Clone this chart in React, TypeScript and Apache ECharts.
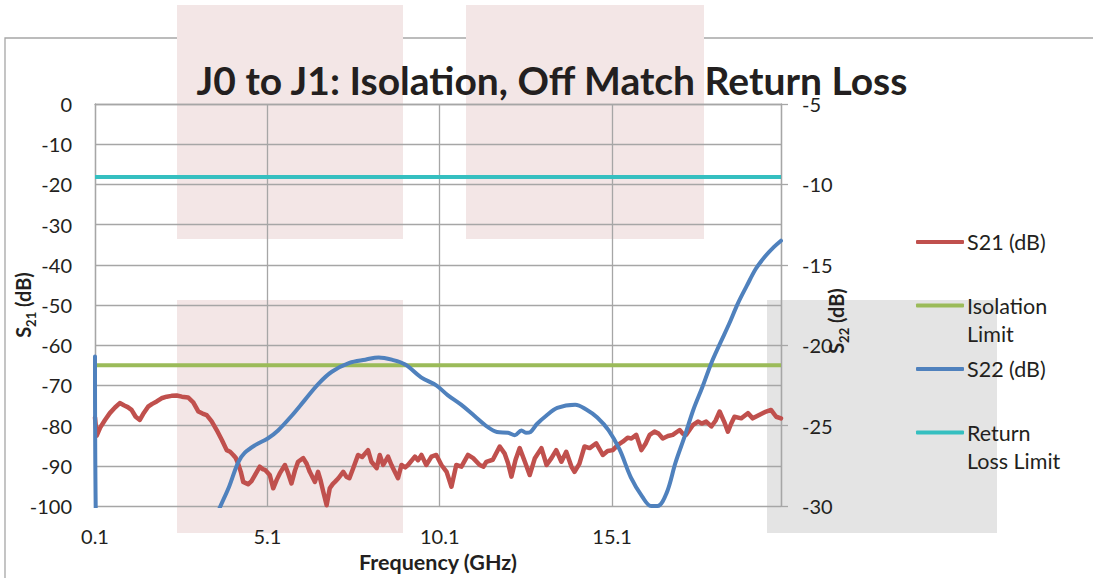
import React, { useEffect, useRef } from "react";
import * as echarts from "echarts";

const TITLE = "J0 to J1: Isolation, Off Match Return Loss";
const X_NAME = "Frequency (GHz)";
const NAME_S21 = "S21 (dB)";
const NAME_ISO = "Isolation Limit";
const NAME_S22 = "S22 (dB)";
const NAME_RL = "Return Loss Limit";
const LEGEND_LABELS: Record<string, string> = {
  [NAME_S21]: "S21 (dB)",
  [NAME_ISO]: "\nIsolation\nLimit",
  [NAME_S22]: "S22 (dB)",
  [NAME_RL]: "\nReturn\nLoss Limit",
};

const FREQ_MIN = 0.1;
const FREQ_MAX = 20;
const FREQ_STEP = 5;
const LEFT_MIN = -100;
const LEFT_MAX = 0;
const LEFT_STEP = 10;
const RIGHT_MIN = -30;
const RIGHT_MAX = -5;
const RIGHT_STEP = 5;

const ISOLATION_LIMIT = -65;
const RETURN_LOSS_LIMIT = -9.54;

// [frequency GHz, S21 dB]
const S21: [number, number][] = [
  [0.1, -78.0], [0.15, -82.5], [0.25, -80.5], [0.39, -78.6], [0.53, -76.9],
  [0.68, -75.5], [0.82, -74.4], [0.95, -75.0], [1.05, -75.4], [1.16, -76.1],
  [1.28, -77.8], [1.4, -78.6], [1.52, -76.8], [1.64, -75.3], [1.76, -74.6],
  [1.89, -74.0], [2.03, -73.2], [2.18, -72.8], [2.32, -72.6], [2.47, -72.5],
  [2.62, -72.8], [2.8, -73.0], [2.95, -74.2], [3.1, -76.5], [3.22, -77.0],
  [3.34, -77.4], [3.48, -78.9], [3.63, -81.1], [3.78, -83.6], [3.92, -86.1],
  [4.02, -86.5], [4.11, -87.3], [4.18, -88.0], [4.25, -89.4], [4.33, -91.5],
  [4.4, -94.0], [4.54, -94.6], [4.64, -93.8], [4.74, -92.3], [4.88, -90.2],
  [4.96, -90.8], [5.03, -91.0], [5.17, -92.3], [5.27, -95.6], [5.37, -93.5],
  [5.46, -91.9], [5.61, -89.8], [5.7, -91.8], [5.8, -94.4], [5.9, -91.2],
  [5.99, -89.0], [6.14, -88.1], [6.24, -89.5], [6.33, -91.5], [6.48, -94.0],
  [6.57, -91.5], [6.64, -93.5], [6.72, -96.4], [6.82, -99.8], [6.91, -95.6],
  [7.0, -94.5], [7.06, -94.0], [7.16, -93.1], [7.3, -91.5], [7.39, -92.7],
  [7.48, -93.1], [7.59, -90.6], [7.73, -87.3], [7.85, -87.8], [8.02, -86.1],
  [8.12, -89.0], [8.27, -90.6], [8.36, -87.3], [8.46, -89.8], [8.6, -87.7],
  [8.7, -89.8], [8.89, -93.1], [8.99, -89.8], [9.1, -90.4], [9.18, -89.8],
  [9.38, -87.7], [9.47, -88.6], [9.57, -87.3], [9.71, -89.8], [9.86, -87.7],
  [10.0, -87.3], [10.15, -89.8], [10.3, -91.5], [10.44, -95.2], [10.58, -89.8],
  [10.73, -90.2], [10.92, -87.3], [11.07, -88.1], [11.26, -89.8], [11.37, -90.2],
  [11.45, -89.0], [11.64, -88.5], [11.84, -85.2], [11.98, -86.9], [12.08, -89.3],
  [12.18, -92.7], [12.3, -88.5], [12.42, -85.6], [12.57, -89.0], [12.71, -92.3],
  [12.86, -88.1], [13.05, -85.6], [13.2, -89.8], [13.34, -88.1], [13.48, -86.1],
  [13.63, -89.0], [13.77, -86.5], [13.92, -90.2], [14.01, -91.5], [14.15, -89.5],
  [14.3, -85.2], [14.45, -85.6], [14.64, -84.4], [14.83, -87.3], [14.97, -86.3],
  [15.12, -86.1], [15.27, -84.8], [15.41, -84.0], [15.55, -83.0], [15.66, -83.2],
  [15.8, -82.3], [15.95, -86.1], [16.07, -84.5], [16.19, -82.3], [16.33, -81.5],
  [16.45, -82.0], [16.57, -83.2], [16.72, -82.6], [16.86, -82.3], [17.06, -81.1],
  [17.15, -82.0], [17.25, -82.3], [17.44, -79.9], [17.59, -79.0], [17.7, -79.5],
  [17.83, -79.0], [17.98, -80.2], [18.1, -78.8], [18.22, -76.5], [18.35, -79.0],
  [18.46, -81.5], [18.55, -79.6], [18.65, -77.8], [18.85, -78.2], [19.04, -76.9],
  [19.18, -78.2], [19.38, -77.3], [19.57, -76.5], [19.71, -76.1], [19.86, -77.8],
  [20.0, -78.2],
];

// [frequency GHz, S22 dB] (values below -30 fall outside the plotted range)
const S22: [number, number][] = [
  [0.1, -20.7], [0.15, -34.0], [0.5, -38.0], [1.0, -40.5], [1.5, -41.5],
  [2.0, -40.0], [2.5, -37.0], [3.0, -34.0], [3.4, -31.8], [3.7, -30.2],
  [3.99, -28.8], [4.25, -27.3], [4.44, -26.7], [4.76, -26.2], [5.11, -25.8],
  [5.41, -25.3], [5.8, -24.4], [6.19, -23.4], [6.58, -22.4], [6.97, -21.65],
  [7.48, -21.1], [7.94, -20.9], [8.33, -20.76], [8.71, -20.9], [9.1, -21.2],
  [9.56, -22.0], [10.0, -22.5], [10.33, -23.1], [10.72, -23.7], [11.11, -24.4],
  [11.5, -25.1], [11.76, -25.4], [12.08, -25.45], [12.28, -25.6], [12.47, -25.3],
  [12.6, -25.45], [12.73, -25.4], [12.92, -24.9], [13.18, -24.4], [13.51, -23.9],
  [14.03, -23.7], [14.35, -24.0], [14.67, -24.5], [15.0, -25.3], [15.32, -26.5],
  [15.64, -28.2], [15.97, -29.4], [16.23, -30.0], [16.42, -30.0], [16.68, -29.2],
  [16.94, -27.3], [17.2, -25.7], [17.46, -24.0], [17.72, -22.6], [17.98, -21.1],
  [18.23, -19.9], [18.49, -18.7], [18.75, -17.4], [19.01, -16.3], [19.27, -15.25],
  [19.53, -14.5], [19.79, -13.9], [20.0, -13.5],
];

const FONT = 'Lato, "Open Sans", sans-serif';
const TEXT = "#231f20";
const GRID = "#a6a6a6";
const RED = "#c0504d";
const GREEN = "#9bbb59";
const BLUE = "#4f81bd";
const CYAN = "#35bfc0";
const PINK = "#f3e6e6";
const GREY_BOX = "#e4e4e4";

function axisNameText(x: number, y: number, sub: string) {
  return {
    type: "text",
    x,
    y,
    rotation: Math.PI / 2,
    z: 10,
    style: {
      text: `{b|S}{s|${sub}}{b| (dB)}`,
      align: "center",
      verticalAlign: "middle",
      rich: {
        b: {
          fontFamily: FONT,
          fontSize: 20,
          fontWeight: "bold",
          fill: TEXT,
          color: TEXT,
          padding: [0, 0, 4, 0],
          verticalAlign: "bottom",
        },
        s: {
          fontFamily: FONT,
          fontSize: 13,
          fontWeight: "bold",
          fill: TEXT,
          color: TEXT,
          verticalAlign: "bottom",
        },
      },
    },
  };
}

export default function App() {
  const ref = useRef<HTMLDivElement>(null);

  useEffect(() => {
    if (!ref.current) return;
    const chart = echarts.init(ref.current, undefined, { renderer: "svg" });

    const limitLine = (v: number) => [
      [FREQ_MIN, v],
      [FREQ_MAX, v],
    ];

    const option: any = {
      animation: false,
      backgroundColor: "#ffffff",
      title: {
        text: TITLE,
        left: 552,
        top: 60,
        textAlign: "center",
        padding: 0,
        textStyle: {
          fontFamily: FONT,
          fontSize: 39,
          fontWeight: "bold",
          color: TEXT,
        },
      },
      legend: {
        orient: "vertical",
        left: 916,
        top: 228,
        padding: 0,
        itemWidth: 48,
        itemHeight: 4,
        itemGap: 7.5,
        icon: "roundRect",
        data: [NAME_S21, NAME_ISO, NAME_S22, NAME_RL],
        formatter: (name: string) => LEGEND_LABELS[name] ?? name,
        textStyle: {
          fontFamily: FONT,
          fontSize: 21.5,
          lineHeight: 28,
          color: TEXT,
          padding: [0, 0, 0, -2],
        },
      },
      grid: {
        left: 95,
        right: 312,
        top: 104,
        bottom: 72,
        containLabel: false,
      },
      xAxis: {
        type: "value",
        min: FREQ_MIN,
        max: FREQ_MAX,
        interval: FREQ_STEP,
        name: X_NAME,
        nameLocation: "middle",
        nameGap: 45,
        nameTextStyle: {
          fontFamily: FONT,
          fontSize: 21.5,
          fontWeight: "bold",
          color: TEXT,
        },
        axisLine: { show: true, lineStyle: { color: GRID, width: 1.3 } },
        axisTick: { show: false },
        splitLine: { show: true, lineStyle: { color: GRID, width: 1.3 } },
        axisLabel: {
          showMaxLabel: false,
          margin: 20,
          fontFamily: FONT,
          fontSize: 20,
          color: TEXT,
        },
      },
      yAxis: [
        {
          type: "value",
          min: LEFT_MIN,
          max: LEFT_MAX,
          interval: LEFT_STEP,
          position: "left",
          axisLine: { show: true, lineStyle: { color: GRID, width: 1.3 } },
          axisTick: { show: false },
          splitLine: { show: true, lineStyle: { color: GRID, width: 1.3 } },
          axisLabel: {
            margin: 23,
            fontFamily: FONT,
            fontSize: 20,
            color: TEXT,
          },
        },
        {
          type: "value",
          min: RIGHT_MIN,
          max: RIGHT_MAX,
          interval: RIGHT_STEP,
          position: "right",
          axisLine: { show: true, lineStyle: { color: GRID, width: 1.3 } },
          axisTick: {
            show: true,
            inside: false,
            length: 7,
            lineStyle: { color: GRID, width: 1.3 },
          },
          splitLine: { show: false },
          axisLabel: {
            margin: 21,
            fontFamily: FONT,
            fontSize: 20,
            color: TEXT,
          },
        },
      ],
      graphic: [
        {
          type: "rect",
          z: -20,
          silent: true,
          shape: { x: 5, y: 38, width: 1200, height: 700 },
          style: { fill: "none", stroke: GRID, lineWidth: 1.3 },
        },
        { type: "rect", z: -10, silent: true, shape: { x: 177, y: 5, width: 226, height: 234 }, style: { fill: PINK } },
        { type: "rect", z: -10, silent: true, shape: { x: 466, y: 5, width: 238, height: 234 }, style: { fill: PINK } },
        { type: "rect", z: -10, silent: true, shape: { x: 177, y: 300, width: 226, height: 233 }, style: { fill: PINK } },
        { type: "rect", z: -10, silent: true, shape: { x: 767, y: 300, width: 230, height: 233 }, style: { fill: GREY_BOX } },
        axisNameText(25, 305, "21"),
        axisNameText(838, 321, "22"),
      ],
      series: [
        {
          name: NAME_S21,
          type: "line",
          xAxisIndex: 0,
          yAxisIndex: 0,
          showSymbol: false,
          symbol: "none",
          data: S21,
          lineStyle: { color: RED, width: 4.5, cap: "round", join: "round" },
          itemStyle: { color: RED },
          z: 3,
        },
        {
          name: NAME_ISO,
          type: "line",
          xAxisIndex: 0,
          yAxisIndex: 0,
          showSymbol: false,
          symbol: "none",
          data: limitLine(ISOLATION_LIMIT),
          lineStyle: { color: GREEN, width: 4 },
          itemStyle: { color: GREEN },
          z: 4,
        },
        {
          name: NAME_S22,
          type: "line",
          xAxisIndex: 0,
          yAxisIndex: 1,
          showSymbol: false,
          symbol: "none",
          smooth: 0.35,
          data: S22,
          lineStyle: { color: BLUE, width: 4, cap: "round", join: "round" },
          itemStyle: { color: BLUE },
          z: 5,
        },
        {
          name: NAME_RL,
          type: "line",
          xAxisIndex: 0,
          yAxisIndex: 1,
          showSymbol: false,
          symbol: "none",
          data: limitLine(RETURN_LOSS_LIMIT),
          lineStyle: { color: CYAN, width: 4 },
          itemStyle: { color: CYAN },
          z: 6,
        },
      ],
    };

    chart.setOption(option);
    return () => chart.dispose();
  }, []);

  return (
    <div
      ref={ref}
      style={{ position: "absolute", left: 0, top: 0, width: 1093, height: 578 }}
    />
  );
}
